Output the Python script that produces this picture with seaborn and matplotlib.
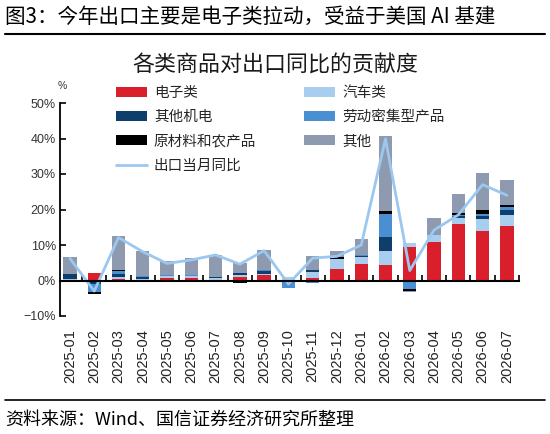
import numpy as np
import matplotlib
matplotlib.use('Agg')
import matplotlib.pyplot as plt
from matplotlib.lines import Line2D
import seaborn as sns

months = ['2025-01', '2025-02', '2025-03', '2025-04', '2025-05', '2025-06', '2025-07',
          '2025-08', '2025-09', '2025-10', '2025-11', '2025-12', '2026-01', '2026-02',
          '2026-03', '2026-04', '2026-05', '2026-06', '2026-07']

electronics = [0.0, 2.1, 0.5, 0.0, 0.8, 0.7, 0.0, 0.9, 1.5, 0.0, 0.6, 3.3, 4.7, 4.4, 9.4, 10.9, 15.9, 14.0, 15.4]
autos       = [0.5, 0.0, 0.4, 0.4, 0.4, 0.5, 0.8, 0.6, 0.4, 1.1, 1.8, 2.7, 2.0, 4.0, 1.1, 1.9, 1.6, 3.3, 3.0]
other_mech  = [1.2, -1.0, 1.0, 0.7, 0.2, 0.1, 0.3, 0.5, 0.9, 0.0, 0.5, 0.1, 0.2, 3.8, 0.0, 0.0, 0.6, 1.0, 1.6]
labor       = [0.1, -2.2, 0.9, 0.1, 0.2, 0.2, 0.0, 0.0, 0.1, -2.0, -0.6, -0.5, 0.3, 6.5, -2.4, -0.3, 0.3, 0.3, 0.8]
raw_agri    = [0.0, -0.5, 0.1, 0.0, -0.3, -0.3, 0.0, -0.6, -0.3, 0.0, 0.0, 0.4, -0.3, 0.9, -0.5, 0.0, 0.5, 1.4, 0.6]
others      = [4.7, 0.0, 9.7, 7.1, 3.9, 4.8, 6.1, 3.0, 5.7, 0.0, 4.1, 1.9, 4.4, 21.2, -0.4, 4.8, 5.5, 10.3, 7.0]
export_yoy  = [6.2, -3.0, 12.1, 8.1, 4.8, 5.8, 7.2, 4.6, 8.4, -1.0, 6.3, 6.8, 10.0, 39.9, 2.8, 14.2, 18.5, 27.0, 24.0]

series_names = ['电子类', '汽车类', '其他机电', '劳动密集型产品', '原材料和农产品', '其他']
line_name = '出口当月同比'
y_ticks = [-10, 0, 10, 20, 30, 40, 50]

colors = ['#d91f2b', '#a9cdee', '#0e3e6c', '#4a8fd1', '#000000', '#8d9ab0']
line_color = '#9cc7ee'

sns.set_style('ticks')
plt.rcParams['font.family'] = ['Noto Sans CJK SC', 'DejaVu Sans']

W, H = 550, 434
fig = plt.figure(figsize=(5.5, 4.34), dpi=100)
ax = fig.add_axes([60 / W, (H - 316) / H, (519 - 60) / W, (316 - 103) / H])

x = np.arange(len(months))
pos_base = np.zeros(len(months))
neg_base = np.zeros(len(months))
handles = []
for vals, name, c in zip([electronics, autos, other_mech, labor, raw_agri, others], series_names, colors):
    v = np.array(vals, dtype=float)
    p = np.where(v > 0, v, 0.0)
    n = np.where(v < 0, v, 0.0)
    h = ax.bar(x, p, bottom=pos_base, width=0.55, color=c, linewidth=0, label=name, zorder=2)
    ax.bar(x, n, bottom=neg_base, width=0.55, color=c, linewidth=0, zorder=2)
    pos_base += p
    neg_base += n
    handles.append(h)

sns.lineplot(x=x, y=export_yoy, ax=ax, color=line_color, linewidth=2, legend=False, zorder=4)
line_handle = Line2D([], [], color=line_color, linewidth=2)

ax.set_xlim(-0.41, len(months) - 0.5)
ax.set_ylim(-10, 50)

for s in ['top', 'right']:
    ax.spines[s].set_visible(False)
ax.spines['left'].set_color('black')
ax.spines['left'].set_linewidth(1.3)
ax.spines['bottom'].set_position(('data', 0))
ax.spines['bottom'].set_color('black')
ax.spines['bottom'].set_linewidth(1.5)
ax.spines['bottom'].set_zorder(5)

ax.set_yticks(y_ticks)
ax.set_yticklabels([f'{v}%'.replace('-', '\u2212') for v in y_ticks],
                   fontfamily='Liberation Sans', fontsize=9, color='#333333')
ax.set_xticks(x)
ax.set_xticklabels(months, rotation=90, fontfamily='Liberation Sans', fontsize=10.5, color='#222222')
ax.set_xticks(np.arange(0.5, len(months), 1), minor=True)
ax.tick_params(axis='x', which='major', length=0, pad=35)
ax.tick_params(axis='x', which='minor', direction='in', length=4, width=1.2, color='black')
ax.tick_params(axis='y', which='major', direction='in', length=4, width=1.2, color='black', pad=3)
ax.grid(False)

# legend (row-major layout in 2 columns)
order_h = [handles[0], handles[2], handles[4], line_handle, handles[1], handles[3], handles[5]]
order_l = [series_names[0], series_names[2], series_names[4], line_name,
           series_names[1], series_names[3], series_names[5]]
fig.legend(order_h, order_l, ncol=2, loc='upper left', bbox_to_anchor=(116 / W, 1 - 86 / H),
           frameon=False, fontsize=10.5, handlelength=2.1, handleheight=0.7, handletextpad=0.5,
           columnspacing=3.3, labelspacing=0.7, borderaxespad=0, borderpad=0)

# texts
fig.text(5 / W, 1 - 17 / H, '图3：今年出口主要是电子类拉动，受益于美国 AI 基建', fontsize=14.8,
         ha='left', va='center', color='black')
fig.add_artist(Line2D([5 / W, 545 / W], [1 - 34 / H, 1 - 34 / H], color='black', linewidth=1.5))
fig.text(275 / W, 1 - 66 / H, '各类商品对出口同比的贡献度', fontsize=15.8, ha='center', va='center',
         color='#1a1a1a')
fig.text(62 / W, 1 - 86 / H, '%', fontsize=7.5, ha='center', va='center', color='#333333',
         fontfamily='Liberation Sans')
fig.add_artist(Line2D([5 / W, 545 / W], [1 - 400 / H, 1 - 400 / H], color='black', linewidth=1.2))
fig.text(5 / W, 1 - 420 / H, '资料来源：Wind、国信证券经济研究所整理', fontsize=13,
         ha='left', va='center', color='black')

fig.savefig('out.png', dpi=100)
